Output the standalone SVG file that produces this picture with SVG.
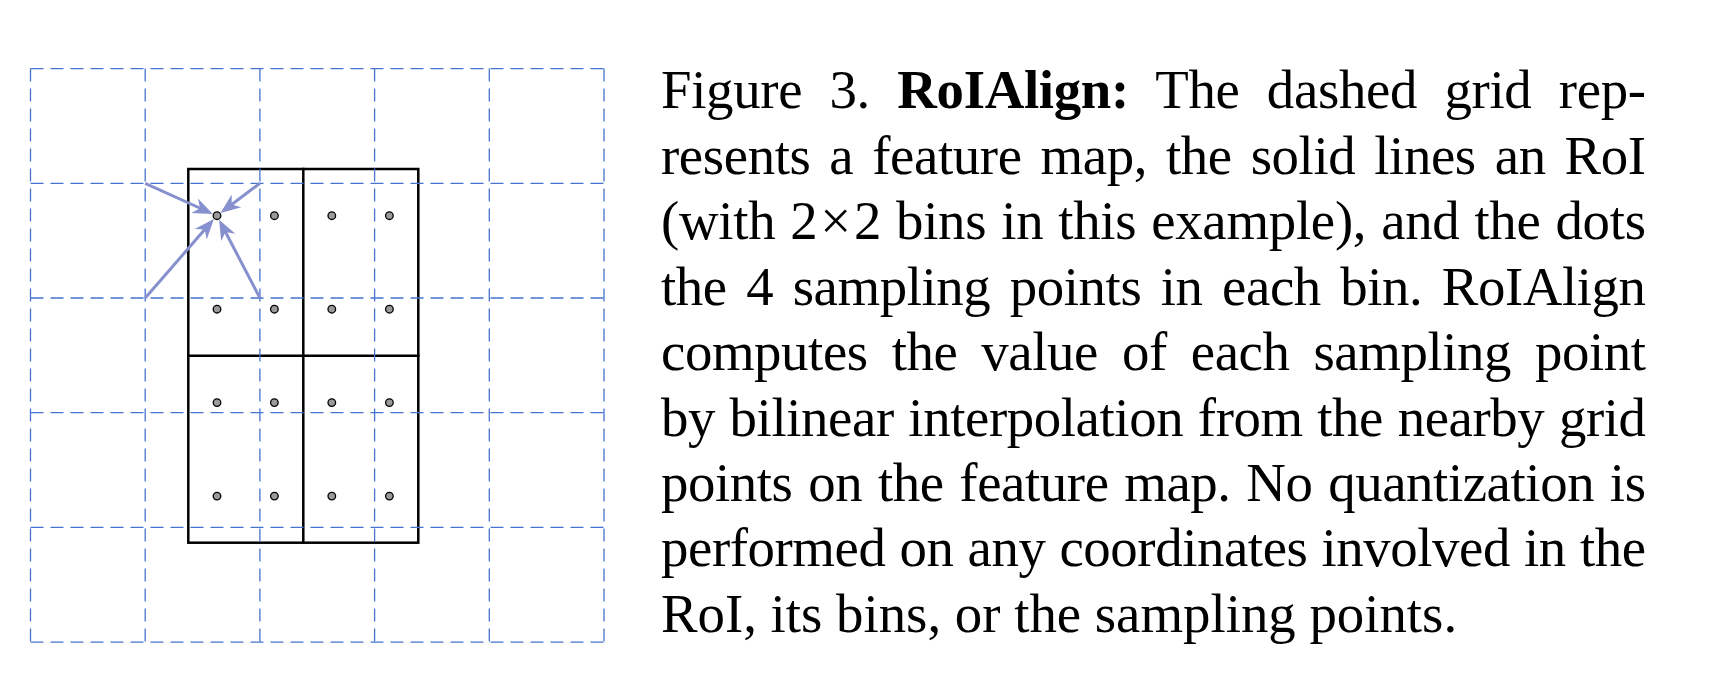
<svg xmlns="http://www.w3.org/2000/svg" width="1726" height="690" viewBox="0 0 1726 690">
<style>
.grid{stroke:#4674cf;stroke-width:1.3;stroke-dasharray:13 7;fill:none}
.roi{stroke:#000;stroke-width:2.5;fill:none;stroke-linecap:square}
.dot{fill:#9a9a9a;stroke:#000;stroke-width:1.3}
.arr{stroke:#8790ce;stroke-width:3;fill:none;marker-end:url(#stealth)}
.cap{font-family:"Liberation Serif","Times New Roman",serif;font-size:54.8px;fill:#000}
</style>
<defs>
<marker id="stealth" viewBox="-21 -9 22 18" refX="-12" refY="0" markerWidth="22" markerHeight="18" markerUnits="userSpaceOnUse" orient="auto">
<path d="M0,0 L-20,-8 L-14,0 L-20,8 Z" fill="#8790ce"/>
</marker>
</defs>
<rect width="1726" height="690" fill="#fff"/>
<g id="roi">
<rect class="roi" x="188.3" y="169" width="230" height="373.7"/>
<line class="roi" x1="303.3" y1="169" x2="303.3" y2="542.7"/>
<line class="roi" x1="188.3" y1="355.85" x2="418.3" y2="355.85"/>
</g>
<g id="grid">
<line class="grid" x1="30.5" y1="68.6" x2="604" y2="68.6"/>
<line class="grid" x1="30.5" y1="183.3" x2="604" y2="183.3"/>
<line class="grid" x1="30.5" y1="298" x2="604" y2="298"/>
<line class="grid" x1="30.5" y1="412.7" x2="604" y2="412.7"/>
<line class="grid" x1="30.5" y1="527.4" x2="604" y2="527.4"/>
<line class="grid" x1="30.5" y1="642.1" x2="604" y2="642.1"/>
<line class="grid" x1="30.5" y1="68.6" x2="30.5" y2="642.1"/>
<line class="grid" x1="145.2" y1="68.6" x2="145.2" y2="642.1"/>
<line class="grid" x1="259.9" y1="68.6" x2="259.9" y2="642.1"/>
<line class="grid" x1="374.6" y1="68.6" x2="374.6" y2="642.1"/>
<line class="grid" x1="489.3" y1="68.6" x2="489.3" y2="642.1"/>
<line class="grid" x1="604" y1="68.6" x2="604" y2="642.1"/>
</g>
<g id="arrows">
<line class="arr" x1="145.2" y1="183.3" x2="201.9" y2="209"/>
<line class="arr" x1="259.9" y1="183.3" x2="230.1" y2="205.8"/>
<line class="arr" x1="145.2" y1="298" x2="206" y2="228.1"/>
<line class="arr" x1="259.9" y1="298" x2="224.6" y2="230.3"/>
</g>
<g id="points">
<circle class="dot" cx="217" cy="215.7" r="3.8"/>
<circle class="dot" cx="274.4" cy="215.7" r="3.8"/>
<circle class="dot" cx="331.8" cy="215.7" r="3.8"/>
<circle class="dot" cx="389.4" cy="215.7" r="3.8"/>
<circle class="dot" cx="217" cy="309.2" r="3.8"/>
<circle class="dot" cx="274.4" cy="309.2" r="3.8"/>
<circle class="dot" cx="331.8" cy="309.2" r="3.8"/>
<circle class="dot" cx="389.4" cy="309.2" r="3.8"/>
<circle class="dot" cx="217" cy="402.6" r="3.8"/>
<circle class="dot" cx="274.4" cy="402.6" r="3.8"/>
<circle class="dot" cx="331.8" cy="402.6" r="3.8"/>
<circle class="dot" cx="389.4" cy="402.6" r="3.8"/>
<circle class="dot" cx="217" cy="496.1" r="3.8"/>
<circle class="dot" cx="274.4" cy="496.1" r="3.8"/>
<circle class="dot" cx="331.8" cy="496.1" r="3.8"/>
<circle class="dot" cx="389.4" cy="496.1" r="3.8"/>
</g>
<g id="caption" class="cap">
<text x="661" y="108.3" word-spacing="14" textLength="985" lengthAdjust="spacing">Figure 3. <tspan font-weight="bold">RoIAlign:</tspan> The dashed grid rep-</text>
<text x="661" y="173.7" word-spacing="5.6" textLength="985" lengthAdjust="spacing">resents a feature map, the solid lines an RoI</text>
<text x="661" y="239.2" word-spacing="1.5" textLength="985" lengthAdjust="spacing">(with 2<tspan dx="3">×</tspan><tspan dx="3">2</tspan> bins in this example), and the dots</text>
<text x="661" y="304.6" word-spacing="6.2" textLength="985" lengthAdjust="spacing">the 4 sampling points in each bin. RoIAlign</text>
<text x="661" y="370" word-spacing="10.7" textLength="985" lengthAdjust="spacing">computes the value of each sampling point</text>
<text x="661" y="435.5" word-spacing="1.3" textLength="985" lengthAdjust="spacing">by bilinear interpolation from the nearby grid</text>
<text x="661" y="500.9" word-spacing="2.4" textLength="985" lengthAdjust="spacing">points on the feature map. No quantization is</text>
<text x="661" y="566.3" word-spacing="0.8" textLength="985" lengthAdjust="spacing">performed on any coordinates involved in the</text>
<text x="661" y="631.7">RoI, its bins, or the sampling points.</text>
</g>
</svg>
